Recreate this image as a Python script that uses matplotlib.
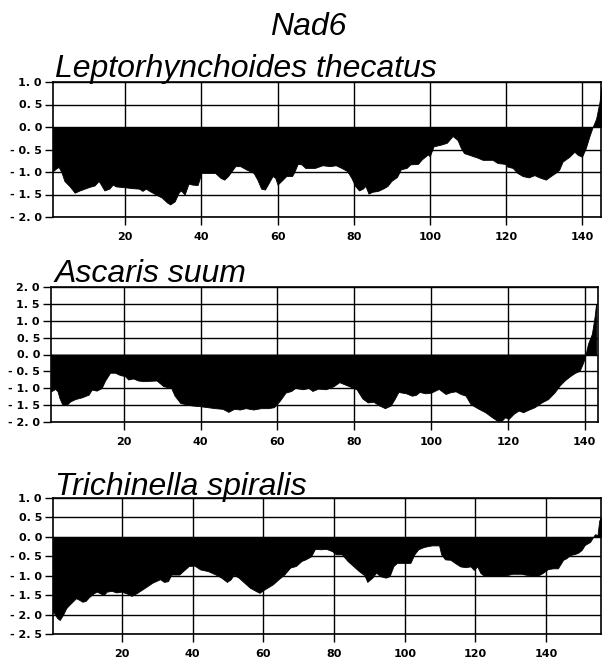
import matplotlib.pyplot as plt
import numpy as np

# hydropathy profiles (residue position, score)
lt_pos = [1, 2, 2.5, 3.2, 4, 5.4, 6.7, 8, 9.3, 10.6, 11.9, 13, 13.6, 14.5, 15.8, 16.7, 17.5,
          20, 21.9, 23.6, 24.5, 25.4, 26.3, 27.6, 29.6, 31, 31.8, 33, 34, 34.6, 35.6, 36.6,
          37.6, 39, 40, 42, 43.6, 45, 46, 47, 48.9, 50.2, 51.7, 53.7, 54.7, 55.7, 56.7, 57.7,
          58.7, 59.4, 60, 61, 62.3, 63.8, 64.3, 65.3, 66.3, 67.3, 69.8, 71.8, 73.8, 75.3,
          76.8, 78.3, 79.4, 80.4, 81.4, 82.4, 83.1, 83.9, 84.9, 86.4, 87.9, 88.9, 89.9, 91.4,
          92.4, 93.9, 94.9, 96.9, 97.9, 99.5, 100, 101, 103, 104.5, 106, 107.3, 108.2, 109,
          110.4, 112.5, 113.9, 116.5, 117.8, 119.8, 120.4, 121.8, 123, 124.4, 126, 127.5,
          128.8, 130.5, 131.8, 133, 134, 134.9, 136.7, 138, 138.9, 140, 141, 141.9, 142.8,
          143.7, 144.6, 145.1]
lt_hyd = [-0.98, -0.91, -0.89, -1.0, -1.2, -1.32, -1.46, -1.41, -1.37, -1.33, -1.3, -1.2,
          -1.28, -1.41, -1.37, -1.28, -1.32, -1.34, -1.36, -1.37, -1.42, -1.37, -1.42, -1.48,
          -1.57, -1.68, -1.72, -1.65, -1.46, -1.41, -1.5, -1.26, -1.28, -1.29, -1.02, -1.02,
          -1.02, -1.13, -1.17, -1.09, -0.87, -0.87, -0.94, -1.02, -1.17, -1.37, -1.39, -1.24,
          -1.09, -1.13, -1.28, -1.2, -1.09, -1.09, -1.02, -0.82, -0.83, -0.91, -0.91, -0.85,
          -0.87, -0.85, -0.91, -0.98, -1.13, -1.31, -1.41, -1.37, -1.31, -1.48, -1.44, -1.42,
          -1.36, -1.31, -1.2, -1.11, -0.94, -0.91, -0.83, -0.82, -0.72, -0.61, -0.65, -0.43,
          -0.39, -0.35, -0.2, -0.29, -0.47, -0.58, -0.62, -0.68, -0.73, -0.73, -0.80, -0.82,
          -0.88, -0.91, -1.02, -1.09, -1.12, -1.07, -1.12, -1.17, -1.09, -1.02, -0.95, -0.77,
          -0.66, -0.55, -0.62, -0.66, -0.47, -0.22, 0.0, 0.18, 0.55, 0.88]

as_pos = [1, 2.1, 2.7, 3.2, 3.9, 5.1, 6, 7.3, 9, 10.8, 11.6, 12.9, 14.2, 15.1, 16.4, 17.7,
          19, 20.3, 21.1, 22.4, 23.7, 25, 28.5, 30.3, 32.3, 33.2, 34.7, 37.7, 39.7, 41.7,
          43.7, 45.7, 47.2, 48.7, 50.2, 51.7, 53.7, 55.7, 57.6, 59.1, 60.6, 62.1, 63.6, 64.6,
          66.6, 68.1, 69.1, 70.6, 72.6, 74.6, 76.1, 77.6, 79.1, 80.6, 82.1, 83.5, 85, 86.5,
          88, 89.5, 90.5, 91.5, 93.5, 95, 96, 97, 98.5, 100, 102, 103.8, 105, 106.4, 107.7,
          109, 110.3, 112.4, 114.1, 115.9, 117.2, 118.4, 119.3, 120.2, 121.5, 122.8, 124,
          125.3, 127, 128.8, 130.5, 132.2, 133.5, 134.8, 136.1, 137.4, 138.7, 139.3, 140,
          140.9, 141.9, 142.6, 143]
as_hyd = [-1.09, -1.02, -1.09, -1.29, -1.47, -1.49, -1.39, -1.32, -1.27, -1.19, -1.04,
          -1.07, -0.99, -0.77, -0.54, -0.54, -0.61, -0.64, -0.74, -0.71, -0.77, -0.79, -0.77,
          -0.94, -0.99, -1.22, -1.44, -1.51, -1.53, -1.56, -1.59, -1.61, -1.70, -1.61, -1.63,
          -1.59, -1.63, -1.59, -1.59, -1.56, -1.37, -1.13, -1.08, -0.99, -1.03, -0.99, -1.08,
          -1.01, -1.03, -0.94, -0.82, -0.89, -0.96, -1.03, -1.30, -1.42, -1.40, -1.51, -1.59,
          -1.51, -1.32, -1.11, -1.15, -1.22, -1.2, -1.11, -1.15, -1.13, -1.02, -1.17, -1.12,
          -1.09, -1.17, -1.22, -1.47, -1.61, -1.71, -1.86, -1.96, -1.96, -1.86, -1.91, -1.76,
          -1.66, -1.71, -1.64, -1.56, -1.42, -1.32, -1.12, -0.92, -0.77, -0.65, -0.55, -0.48,
          -0.33, -0.13, 0.32, 0.61, 1.11, 1.50]

ts_pos = [0.5, 1.7, 2.4, 3.3, 4.2, 5.1, 6, 7, 7.9, 8.8, 9.7, 10.6, 12, 12.9, 13.8, 14.8,
          15.7, 17.1, 18.4, 19.8, 21.2, 22.7, 24.3, 26.5, 28.6, 30.8, 31.9, 33, 34, 36.2,
          37.3, 38.9, 40.5, 42.2, 44.3, 46.5, 48.1, 49.7, 50.8, 51.6, 53, 54.6, 56.2, 57.8,
          58.9, 60, 61.1, 62.7, 64.3, 65.9, 67.6, 69.2, 70.8, 71.9, 73.5, 74.6, 76.2, 77.8,
          79.5, 80.5, 82.2, 83.8, 85.4, 87, 88.6, 89.4, 90.8, 91.9, 93, 94.6, 95.7, 96.8,
          97.8, 100, 101.6, 102.7, 103.8, 105.4, 107.6, 109.7, 110.3, 111.4, 112.9, 114.3,
          115.7, 117.1, 118.6, 119.5, 120.5, 121.4, 122.4, 124.3, 128.1, 130.5, 132.9, 135.7,
          137.6, 139, 140.5, 141.9, 143.3, 144.8, 145.7, 146.7, 148.1, 149, 150, 150.9,
          152.4, 153.3, 153.8, 154.5, 155, 155.5]
ts_hyd = [-1.92, -2.09, -2.14, -2.01, -1.84, -1.75, -1.67, -1.58, -1.62, -1.67, -1.65,
          -1.56, -1.45, -1.41, -1.45, -1.50, -1.41, -1.39, -1.43, -1.41, -1.45, -1.52, -1.44,
          -1.31, -1.18, -1.09, -1.16, -1.14, -0.97, -0.97, -0.88, -0.75, -0.74, -0.84, -0.88,
          -0.97, -1.05, -1.16, -1.09, -0.97, -1.05, -1.18, -1.31, -1.39, -1.44, -1.37, -1.31,
          -1.22, -1.09, -0.97, -0.79, -0.75, -0.62, -0.58, -0.50, -0.31, -0.32, -0.31, -0.37,
          -0.45, -0.45, -0.62, -0.75, -0.88, -0.99, -1.16, -1.05, -0.92, -1.01, -1.05, -1.01,
          -0.75, -0.67, -0.67, -0.67, -0.45, -0.32, -0.26, -0.22, -0.22, -0.45, -0.58, -0.59,
          -0.68, -0.76, -0.78, -0.76, -0.85, -0.76, -0.93, -1.0, -1.0, -1.0, -0.95, -0.95,
          -1.0, -1.0, -0.93, -0.83, -0.81, -0.81, -0.59, -0.55, -0.47, -0.44, -0.41, -0.34,
          -0.21, -0.13, 0.0, 0.07, 0.04, 0.42, 0.5]

names = ['Leptorhynchoides thecatus', 'Ascaris suum', 'Trichinella spiralis']
x_ticks = [20, 40, 60, 80, 100, 120, 140]


def ylab(v):
    s = ('%.1f' % abs(v)).replace('.', '. ')
    return '- ' + s if v < -0.01 else s


fig = plt.figure(figsize=(6.02, 6.58), dpi=100)
W, H = 602.0, 658.0

# (left px, right px, top px, bottom px, xlim, ylim)
boxes = [(53, 601, 82, 217, (1, 145), (-2.0, 1.0)),
         (51, 598, 287, 422, (1, 143.5), (-2.0, 2.0)),
         (53, 601, 498, 634, (0.5, 155.5), (-2.5, 1.0))]
data = [(lt_pos, lt_hyd), (as_pos, as_hyd), (ts_pos, ts_hyd)]
title_base = [77, 282, 495]

for (l, r, t, b, xl, yl), (xs, ys), name, tb in zip(boxes, data, names, title_base):
    ax = fig.add_axes([l / W, 1 - b / H, (r - l) / W, (b - t) / H])
    ax.fill_between(xs, ys, 0, color='black', linewidth=0.6, edgecolor='black')
    ax.set_xlim(*xl)
    ax.set_ylim(*yl)
    yt = np.arange(yl[0], yl[1] + 0.01, 0.5)
    ax.set_yticks(yt)
    ax.set_yticklabels([ylab(v) for v in yt])
    ax.set_xticks(x_ticks)
    ax.set_xticklabels([str(v) for v in x_ticks])
    ax.grid(True, color='black', linewidth=1.0)
    for sp in ax.spines.values():
        sp.set_linewidth(1.2)
    ax.tick_params(axis='y', direction='out', length=6, width=1.0, pad=2,
                   labelsize=8)
    ax.tick_params(axis='x', direction='out', length=5.5, width=1.0, pad=5,
                   labelsize=8)
    for lab in ax.get_xticklabels() + ax.get_yticklabels():
        lab.set_fontweight('bold')
    fig.text(55 / W, 1 - tb / H, name, fontsize=23, style='italic',
             family='Liberation Sans', ha='left', va='baseline')

fig.text(308 / W, 1 - 35 / H, 'Nad6', fontsize=23, style='italic',
         family='Liberation Sans', ha='center', va='baseline')

fig.savefig('out.png', dpi=100)
